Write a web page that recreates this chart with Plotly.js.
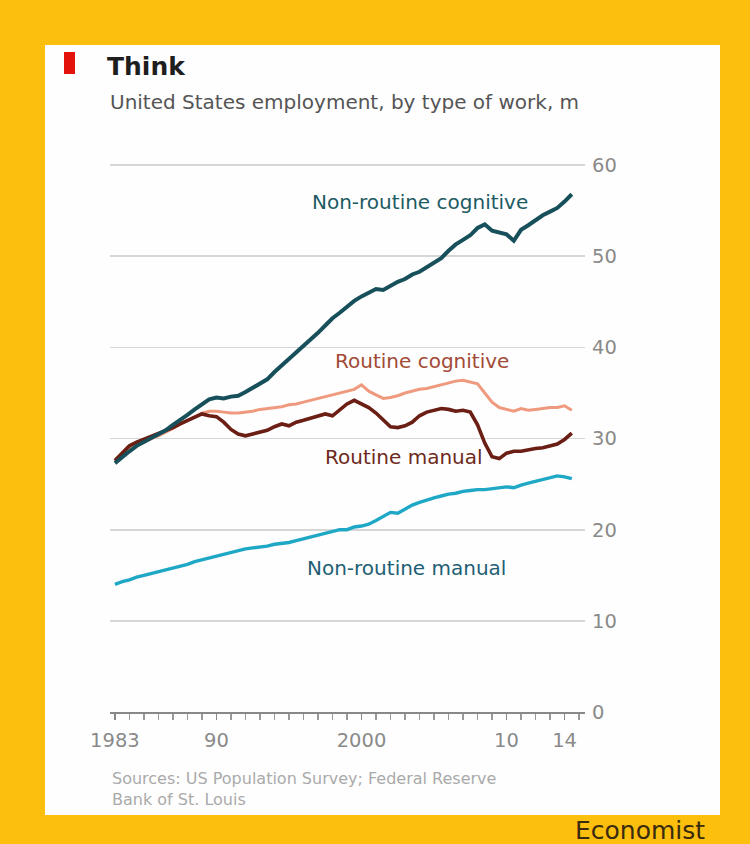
<!DOCTYPE html>
<html><head><meta charset="utf-8">
<script src="https://cdn.plot.ly/plotly-3.0.1.min.js"></script>
<style>
html,body{margin:0;padding:0;width:750px;height:844px;background:#fcbf0e;overflow:hidden;}
#panel{position:absolute;left:45px;top:45px;width:675px;height:770px;background:#fefefe;}
#red{position:absolute;left:64px;top:52px;width:11px;height:22px;background:#e3120b;}
#chart{position:absolute;left:0;top:0;width:750px;height:844px;}
</style></head><body>
<div id="panel"></div><div id="red"></div><div id="chart"></div>
<script>
const years = [1983,1983.5,1984,1984.5,1985,1985.5,1986,1986.5,1987,1987.5,1988,1988.5,1989,1989.5,1990,1990.5,1991,1991.5,1992,1992.5,1993,1993.5,1994,1994.5,1995,1995.5,1996,1996.5,1997,1997.5,1998,1998.5,1999,1999.5,2000,2000.5,2001,2001.5,2002,2002.5,2003,2003.5,2004,2004.5,2005,2005.5,2006,2006.5,2007,2007.5,2008,2008.5,2009,2009.5,2010,2010.5,2011,2011.5,2012,2012.5,2013,2013.5,2014,2014.5];
const nonRoutineCognitive = [27.3,28.0,28.6,29.2,29.6,30.0,30.4,30.9,31.5,32.0,32.6,33.2,33.8,34.3,34.5,34.4,34.6,34.7,35.1,35.6,36.0,36.5,37.3,38.0,38.7,39.4,40.1,40.9,41.6,42.4,43.2,43.8,44.5,45.1,45.6,46.0,46.4,46.3,46.8,47.2,47.5,48.0,48.3,48.8,49.3,49.8,50.6,51.3,51.8,52.3,53.1,53.5,52.8,52.6,52.4,51.7,52.9,53.4,54.0,54.5,54.9,55.3,56.0,56.8];
const routineCognitive = [27.5,28.2,28.8,29.2,29.6,30.0,30.3,30.7,31.1,31.6,32.0,32.4,32.8,33.0,33.0,32.9,32.8,32.8,32.9,33.0,33.2,33.3,33.4,33.5,33.7,33.8,34.0,34.2,34.4,34.6,34.8,35.0,35.2,35.4,35.9,35.2,34.8,34.4,34.5,34.7,35.0,35.2,35.4,35.5,35.7,35.9,36.1,36.3,36.4,36.2,36.0,35.0,34.0,33.4,33.2,33.0,33.3,33.1,33.2,33.3,33.4,33.4,33.6,33.1];
const routineManual = [27.6,28.4,29.2,29.6,29.9,30.2,30.5,30.8,31.2,31.6,32.0,32.4,32.7,32.5,32.4,31.8,31.0,30.5,30.3,30.5,30.7,30.9,31.3,31.6,31.4,31.8,32.0,32.2,32.5,32.7,32.5,33.2,33.8,34.2,33.8,33.4,32.8,32.0,31.3,31.2,31.4,31.8,32.5,32.9,33.1,33.3,33.2,33.0,33.1,32.9,31.5,29.5,28.0,27.8,28.4,28.6,28.6,28.8,28.9,29.0,29.2,29.4,29.9,30.6];
const nonRoutineManual = [14.0,14.3,14.5,14.8,15.0,15.2,15.4,15.6,15.8,16.0,16.2,16.5,16.7,16.9,17.1,17.3,17.5,17.7,17.9,18.0,18.1,18.2,18.4,18.5,18.6,18.8,19.0,19.2,19.4,19.6,19.8,20.0,20.0,20.3,20.4,20.6,21.0,21.5,21.9,21.8,22.3,22.7,23.0,23.3,23.5,23.7,23.9,24.0,24.2,24.3,24.4,24.4,24.5,24.6,24.7,24.6,24.9,25.1,25.3,25.5,25.7,25.9,25.8,25.6];
const xTickVals = [1983,1990,2000,2010,2014];
const xTickText = ['1983','90','2000','10','14'];
const yTickVals = [0,10,20,30,40,50,60];

const font = '"DejaVu Sans", Verdana, sans-serif';
const traces = [
  {x: years, y: nonRoutineManual, name:'Non-routine manual', mode:'lines', line:{color:'#1fa8c6', width:3.4}},
  {x: years, y: routineCognitive, name:'Routine cognitive', mode:'lines', line:{color:'#ef9a7e', width:3}},
  {x: years, y: routineManual, name:'Routine manual', mode:'lines', line:{color:'#6a1e14', width:3.6}},
  {x: years, y: nonRoutineCognitive, name:'Non-routine cognitive', mode:'lines', line:{color:'#17505a', width:4}}
];
const layout = {
  width:750, height:844,
  paper_bgcolor:'rgba(0,0,0,0)', plot_bgcolor:'rgba(0,0,0,0)',
  showlegend:false,
  margin:{l:110, r:165, t:156, b:132},
  font:{family:font, color:'#555'},
  title:{text:'<b>Think</b>', x:107/750, xanchor:'left', xref:'container', yref:'container', y:1-66/844, yanchor:'middle', font:{family:font, size:25, color:'#1e1e1e'}},
  xaxis:{range:[1982.66, 2015.41], tickvals:xTickVals, ticktext:xTickText, showgrid:false, zeroline:false,
    showline:true, linecolor:'#888', linewidth:1.5, ticks:'outside', ticklen:6, tickcolor:'#888', tickwidth:1.2,
    ticklabelstandoff:4,
    minor:{dtick:1, tick0:1983, ticks:'outside', ticklen:6, tickcolor:'#999', showgrid:false},
    tickfont:{size:19.5, color:'#8a8a8a', family:font}},
  yaxis:{range:[0,61], side:'right', tickvals:yTickVals, showgrid:true, gridcolor:'#d6d6d6', gridwidth:1.8, zeroline:false,
    ticks:'', ticklabelstandoff:6, tickfont:{size:19.5, color:'#8a8a8a', family:font}, showline:false},
  annotations:[
    {xref:'paper', yref:'paper', x:-0.005, y:(712-102)/556, xanchor:'left', yanchor:'middle', showarrow:false, text:'United States employment, by type of work, m', font:{size:20, color:'#555', family:font}},
    {x:2004.0, y:56.0, text:'Non-routine cognitive', showarrow:false, font:{size:20, color:'#1d5a62', family:font}},
    {x:2004.2, y:38.5, text:'Routine cognitive', showarrow:false, font:{size:20, color:'#a24a36', family:font}},
    {x:2002.9, y:28.0, text:'Routine manual', showarrow:false, font:{size:20, color:'#6d2a1c', family:font}},
    {x:2003.1, y:15.85, text:'Non-routine manual', showarrow:false, font:{size:20, color:'#1f5f74', family:font}},
    {xref:'paper', yref:'paper', x:0, y:(712-789)/556, xanchor:'left', yanchor:'middle', align:'left', showarrow:false, text:'Sources: US Population Survey; Federal Reserve<br>Bank of St. Louis', font:{size:16, color:'#aaa', family:font}},
    {xref:'paper', yref:'paper', x:(640-110)/475, y:(712-830)/556, xanchor:'center', yanchor:'middle', showarrow:false, text:'Economist', font:{size:25, color:'#3a2a0e', family:font}}
  ]
};
Plotly.newPlot('chart', traces, layout, {displayModeBar:false, staticPlot:true});
</script></body></html>
